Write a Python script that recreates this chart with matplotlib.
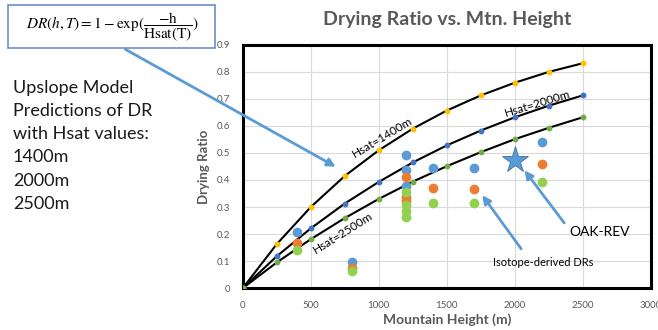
import matplotlib.pyplot as plt
from matplotlib.patches import Rectangle

plt.rcParams['font.family'] = ['Lato', 'DejaVu Sans']
plt.rcParams['mathtext.fontset'] = 'stix'

# Upslope model curves (markers every 250 m)
HEIGHTS = [0, 250, 500, 750, 1000, 1250, 1500, 1750, 2000, 2250, 2500]
DR_1400 = [0, 0.163, 0.300, 0.415, 0.510, 0.590, 0.657, 0.713, 0.760, 0.800, 0.832]
DR_2000 = [0, 0.118, 0.221, 0.313, 0.393, 0.465, 0.528, 0.583, 0.632, 0.675, 0.713]
DR_2500 = [0, 0.095, 0.181, 0.259, 0.330, 0.394, 0.451, 0.503, 0.551, 0.593, 0.632]

# Isotope-derived drying ratios
ISO_BLUE_X = [400, 800, 1200, 1200, 1200, 1400, 1700, 2200]
ISO_BLUE_Y = [0.208, 0.095, 0.493, 0.437, 0.379, 0.445, 0.443, 0.541]
ISO_ORANGE_X = [400, 800, 1200, 1200, 1200, 1400, 1700, 2200]
ISO_ORANGE_Y = [0.168, 0.075, 0.410, 0.338, 0.322, 0.370, 0.367, 0.458]
ISO_GREEN_X = [400, 800, 1200, 1200, 1200, 1200, 1400, 1700, 2200]
ISO_GREEN_Y = [0.140, 0.063, 0.357, 0.307, 0.285, 0.264, 0.316, 0.314, 0.394]

# OAK-REV
OAK_X = [2000]
OAK_Y = [0.474]

GRAY = '#595959'
ARROW = '#5B9BD5'

fig = plt.figure(figsize=(6.58, 3.3), dpi=100)
ax = fig.add_axes([0.369, 0.127, 0.62, 0.737])

ax.grid(True, color='#D9D9D9', lw=0.8)
ax.set_axisbelow(True)

# model curves
for dr, mcol in [(DR_1400, '#FFC000'), (DR_2000, '#4472C4'), (DR_2500, '#70AD47')]:
    ax.plot(HEIGHTS, dr, color='black', lw=1.5, zorder=3)
    ax.plot(HEIGHTS, dr, ls='none', marker='o', ms=3.2, color=mcol, zorder=4)

# isotope points
ax.scatter(ISO_BLUE_X, ISO_BLUE_Y, s=36, color='#5B9BD5', zorder=5)
ax.scatter(ISO_ORANGE_X, ISO_ORANGE_Y, s=36, color='#ED7D31', zorder=5)
ax.scatter(ISO_GREEN_X, ISO_GREEN_Y, s=36, color='#92D050', zorder=5)
ax.plot(OAK_X, OAK_Y, ls='none', marker='*', ms=20, color='#5B9BD5',
        mec='#41719C', mew=0.6, zorder=6)

ax.set_xlim(0, 3000)
ax.set_ylim(0, 0.9)
ax.set_xticks(range(0, 3001, 500))
ax.set_yticks([i / 10 for i in range(10)])
ax.set_yticklabels(['0'] + ['%.1f' % (i / 10) for i in range(1, 10)])
ax.tick_params(length=0, labelsize=7, labelcolor=GRAY, pad=9)
for s in ax.spines.values():
    s.set_linewidth(2.2)
    s.set_color('black')

ax.set_xlabel('Mountain Height (m)', fontsize=10, fontweight='bold', color=GRAY, labelpad=3)
ax.set_ylabel('Drying Ratio', fontsize=9.5, fontweight='bold', color=GRAY, labelpad=5)
fig.text(447 / 658, 1 - 19 / 330, 'Drying Ratio vs. Mtn. Height', ha='center', va='center',
         fontsize=14, fontweight='bold', color=GRAY)

# curve labels
ax.text(1026, 0.559, 'Hsat=1400m', rotation=31, ha='center', va='center', fontsize=8.5)
ax.text(2170, 0.681, 'Hsat=2000m', rotation=17, ha='center', va='center', fontsize=8.5)
ax.text(738, 0.204, 'Hsat=2500m', rotation=32, ha='center', va='center', fontsize=8.5)

# annotations
ax.annotate('', xy=(701, 0.444), xytext=(123, 282), textcoords='figure pixels',
            arrowprops=dict(arrowstyle='-|>', color=ARROW, lw=2, mutation_scale=12),
            annotation_clip=False)
ax.annotate('', xy=(2059, 0.444), xytext=(2376, 0.233),
            arrowprops=dict(arrowstyle='-|>', color=ARROW, lw=2, mutation_scale=12))
ax.annotate('', xy=(1749, 0.352), xytext=(2059, 0.137),
            arrowprops=dict(arrowstyle='-|>', color=ARROW, lw=2, mutation_scale=12))
ax.text(2627, 0.207, 'OAK-REV', ha='center', va='center', fontsize=10)
ax.text(2207, 0.093, 'Isotope-derived DRs', ha='center', va='center', fontsize=8)

# formula box
fig.patches.append(Rectangle((8 / 658, 1 - 48 / 330), 207 / 658, 43 / 330,
                             transform=fig.transFigure, fill=False,
                             edgecolor='#6D8FC8', lw=1.2))
fig.text(112 / 658, 1 - 27 / 330,
         r'$DR(h,T) = 1 - \exp(\dfrac{-\mathrm{h}}{\mathrm{Hsat(T)}})$',
         ha='center', va='center', fontsize=11)

fig.text(13 / 658, 1 - 80 / 330,
         'Upslope Model\nPredictions of DR\nwith Hsat values:\n1400m\n2000m\n2500m',
         ha='left', va='top', fontsize=13, linespacing=1.55, color='#1a1a1a')

fig.savefig('out.png', dpi=100)
